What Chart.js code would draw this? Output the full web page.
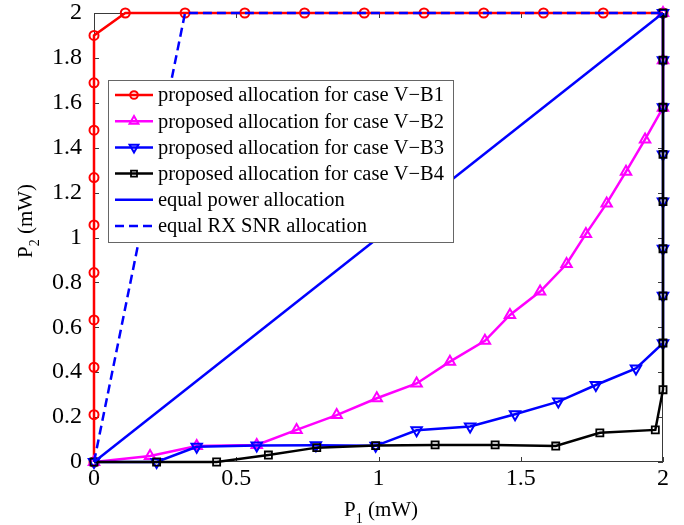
<!DOCTYPE html>
<html>
<head>
<meta charset="utf-8">
<script src="https://cdn.jsdelivr.net/npm/chart.js@4.4.0/dist/chart.umd.min.js"></script>
<style>
  html, body { margin: 0; padding: 0; background: #fff; }
  #wrap { width: 684px; height: 525px; position: relative; }
</style>
</head>
<body>
<div id="wrap"><canvas id="chart"></canvas></div>
<script>
const SERIF = "'Liberation Serif', 'Times New Roman', serif";
Chart.defaults.font.family = SERIF;

const xTicks = [0, 0.5, 1, 1.5, 2];
const yTicks = [0, 0.2, 0.4, 0.6, 0.8, 1, 1.2, 1.4, 1.6, 1.8, 2];

const seriesNames = [
  'proposed allocation for case V\u2212B1',
  'proposed allocation for case V\u2212B2',
  'proposed allocation for case V\u2212B3',
  'proposed allocation for case V\u2212B4',
  'equal power allocation',
  'equal RX SNR allocation'
];

// case V-B1: up the P2 axis, then along P2 = 2
const b1X = [0, 0, 0, 0, 0, 0, 0, 0, 0, 0, 0.11, 0.32, 0.53, 0.74, 0.95, 1.16, 1.37, 1.58, 1.79, 2];
const b1Y = [0, 0.211, 0.422, 0.633, 0.844, 1.056, 1.267, 1.478, 1.689, 1.9, 2, 2, 2, 2, 2, 2, 2, 2, 2, 2];

// case V-B2
const b2X = [0, 0.197, 0.361, 0.572, 0.712, 0.853, 0.994, 1.134, 1.251, 1.374, 1.462, 1.568, 1.661, 1.729, 1.802, 1.87, 1.937, 2, 2, 2];
const b2Y = [0, 0.027, 0.071, 0.076, 0.143, 0.209, 0.284, 0.35, 0.447, 0.54, 0.655, 0.759, 0.882, 1.016, 1.152, 1.293, 1.437, 1.578, 1.79, 2];

// case V-B3
const b3X = [0, 0.22, 0.361, 0.572, 0.78, 0.99, 1.134, 1.322, 1.48, 1.632, 1.764, 1.905, 2, 2, 2, 2, 2, 2, 2, 2];
const b3Y = [0, 0, 0.068, 0.073, 0.075, 0.072, 0.141, 0.158, 0.213, 0.269, 0.343, 0.417, 0.529, 0.74, 0.95, 1.16, 1.37, 1.58, 1.79, 2];

// case V-B4
const b4X = [0, 0.22, 0.431, 0.613, 0.783, 0.99, 1.199, 1.41, 1.623, 1.778, 1.973, 2, 2, 2, 2, 2, 2, 2, 2, 2];
const b4Y = [0, 0, 0, 0.031, 0.064, 0.073, 0.076, 0.076, 0.071, 0.13, 0.143, 0.322, 0.53, 0.74, 0.95, 1.16, 1.37, 1.58, 1.79, 2];

// reference allocations
const eqPowerX = [0, 2];
const eqPowerY = [0, 2];
const eqSnrX = [0, 0.32, 2];
const eqSnrY = [0, 2, 2];

const pts = (xs, ys) => xs.map((x, i) => ({ x, y: ys[i] }));

function series(i, xs, ys, color, extra) {
  return Object.assign({
    label: seriesNames[i],
    data: pts(xs, ys),
    showLine: true,
    borderColor: color,
    backgroundColor: 'transparent',
    pointBorderColor: color,
    pointBackgroundColor: 'transparent',
    borderWidth: 2.5,
    pointBorderWidth: 2,
    pointRadius: 0,
    pointHoverRadius: 0,
    clip: false
  }, extra);
}

const datasets = [
  series(5, eqSnrX, eqSnrY, '#0000ff', { borderDash: [9, 5], order: 0 }),
  series(4, eqPowerX, eqPowerY, '#0000ff', { order: 1 }),
  series(3, b4X, b4Y, '#000000', { pointStyle: 'rect', pointRadius: 5, pointBorderWidth: 1.8, order: 2 }),
  series(2, b3X, b3Y, '#0000ff', { pointStyle: 'triangle', pointRotation: 180, pointRadius: 6, order: 3 }),
  series(1, b2X, b2Y, '#ff00ff', { pointStyle: 'triangle', pointRadius: 6, order: 4 }),
  series(0, b1X, b1Y, '#ff0000', { pointStyle: 'circle', pointRadius: 4.5, order: 5 })
];

// box round the plot with inward ticks on all four sides
const frame = {
  id: 'frame',
  beforeDatasetsDraw(chart) {
    const { ctx, chartArea: a, scales: { x, y } } = chart;
    const len = 5;
    ctx.save();
    ctx.strokeStyle = '#3a3a3a';
    ctx.lineWidth = 1;
    ctx.strokeRect(a.left + 0.5, a.top + 0.5, a.right - a.left - 1, a.bottom - a.top - 1);
    ctx.beginPath();
    xTicks.forEach(v => {
      const px = Math.round(x.getPixelForValue(v)) + 0.5;
      ctx.moveTo(px, a.bottom); ctx.lineTo(px, a.bottom - len);
      ctx.moveTo(px, a.top); ctx.lineTo(px, a.top + len);
    });
    yTicks.forEach(v => {
      const py = Math.round(y.getPixelForValue(v)) + 0.5;
      ctx.moveTo(a.left, py); ctx.lineTo(a.left + len, py);
      ctx.moveTo(a.right, py); ctx.lineTo(a.right - len, py);
    });
    ctx.stroke();
    ctx.restore();
  }
};

function drawMarker(ctx, style, rotation, r, cx, cy) {
  ctx.beginPath();
  if (style === 'circle') {
    ctx.arc(cx, cy, r, 0, Math.PI * 2);
  } else if (style === 'triangle') {
    for (let k = 0; k < 3; k++) {
      const ang = (rotation || 0) * Math.PI / 180 + k * 2 * Math.PI / 3;
      const px = cx + Math.sin(ang) * r, py = cy - Math.cos(ang) * r;
      k ? ctx.lineTo(px, py) : ctx.moveTo(px, py);
    }
    ctx.closePath();
  } else if (style === 'rect') {
    const s = r * Math.SQRT1_2;
    ctx.rect(cx - s, cy - s, 2 * s, 2 * s);
  }
  ctx.stroke();
}

// legend box in the upper left of the plot, in name order
const legendBox = {
  id: 'legendBox',
  afterDatasetsDraw(chart) {
    const { ctx, chartArea: a } = chart;
    const left = a.left + 14, top = a.top + 67, w = 345, h = 162;
    const rowH = 26.2, first = top + 15;
    ctx.save();
    ctx.fillStyle = '#fff';
    ctx.fillRect(left, top, w, h);
    ctx.strokeStyle = '#666';
    ctx.lineWidth = 1;
    ctx.strokeRect(left + 0.5, top + 0.5, w, h);
    ctx.font = '20.5px ' + SERIF;
    ctx.textBaseline = 'middle';
    seriesNames.forEach((name, i) => {
      const ds = chart.data.datasets.find(d => d.label === name);
      const yy = first + i * rowH;
      const x0 = left + 7, x1 = left + 45;
      ctx.strokeStyle = ds.borderColor;
      ctx.lineWidth = ds.borderWidth;
      ctx.setLineDash(ds.borderDash || []);
      ctx.beginPath();
      ctx.moveTo(x0, yy); ctx.lineTo(x1, yy);
      ctx.stroke();
      ctx.setLineDash([]);
      if (ds.pointRadius) {
        ctx.lineWidth = ds.pointBorderWidth;
        drawMarker(ctx, ds.pointStyle, ds.pointRotation, ds.pointRadius * 0.85, (x0 + x1) / 2, yy);
      }
      ctx.fillStyle = '#000';
      ctx.fillText(name, left + 50, yy + 1);
    });
    ctx.restore();
  }
};

function subscriptText(ctx, main, sub, rest) {
  ctx.font = '21px ' + SERIF;
  ctx.fillText(main, 0, 0);
  let w = ctx.measureText(main).width;
  ctx.font = '14px ' + SERIF;
  ctx.fillText(sub, w, 7);
  w += ctx.measureText(sub).width;
  ctx.font = '21px ' + SERIF;
  ctx.fillText(rest, w, 0);
}

// axis titles with subscripts
const axisTitles = {
  id: 'axisTitles',
  afterDraw(chart) {
    const ctx = chart.ctx;
    ctx.save();
    ctx.fillStyle = '#000';
    ctx.textBaseline = 'alphabetic';
    ctx.save();
    ctx.translate(344, 516);
    subscriptText(ctx, 'P', '1', ' (mW)');
    ctx.restore();
    ctx.save();
    ctx.translate(32, 258);
    ctx.rotate(-Math.PI / 2);
    subscriptText(ctx, 'P', '2', ' (mW)');
    ctx.restore();
    ctx.restore();
  }
};

const tickFont = { family: SERIF, size: 24 };

new Chart(document.getElementById('chart'), {
  type: 'scatter',
  data: { datasets },
  options: {
    responsive: true,
    maintainAspectRatio: false,
    animation: false,
    events: [],
    layout: { padding: { left: 0, top: 13, right: 21, bottom: 0 } },
    plugins: { legend: { display: false }, tooltip: { enabled: false } },
    scales: {
      x: {
        type: 'linear', min: 0, max: 2,
        grid: { display: false, drawTicks: false },
        border: { display: false },
        afterBuildTicks: s => { s.ticks = xTicks.map(v => ({ value: v })); },
        afterFit: s => { s.height = 63; s.paddingLeft = 0; s.paddingRight = 0; },
        ticks: { font: tickFont, color: '#000', padding: 2, autoSkip: false, maxRotation: 0, callback: v => String(v) }
      },
      y: {
        type: 'linear', min: 0, max: 2,
        grid: { display: false, drawTicks: false },
        border: { display: false },
        afterBuildTicks: s => { s.ticks = yTicks.map(v => ({ value: v })); },
        afterFit: s => { s.width = 94; s.paddingTop = 0; s.paddingBottom = 0; },
        ticks: { font: tickFont, color: '#000', padding: 12, autoSkip: false, callback: v => String(+v.toFixed(1)) }
      }
    }
  },
  plugins: [frame, legendBox, axisTitles]
});
</script>
</body>
</html>
